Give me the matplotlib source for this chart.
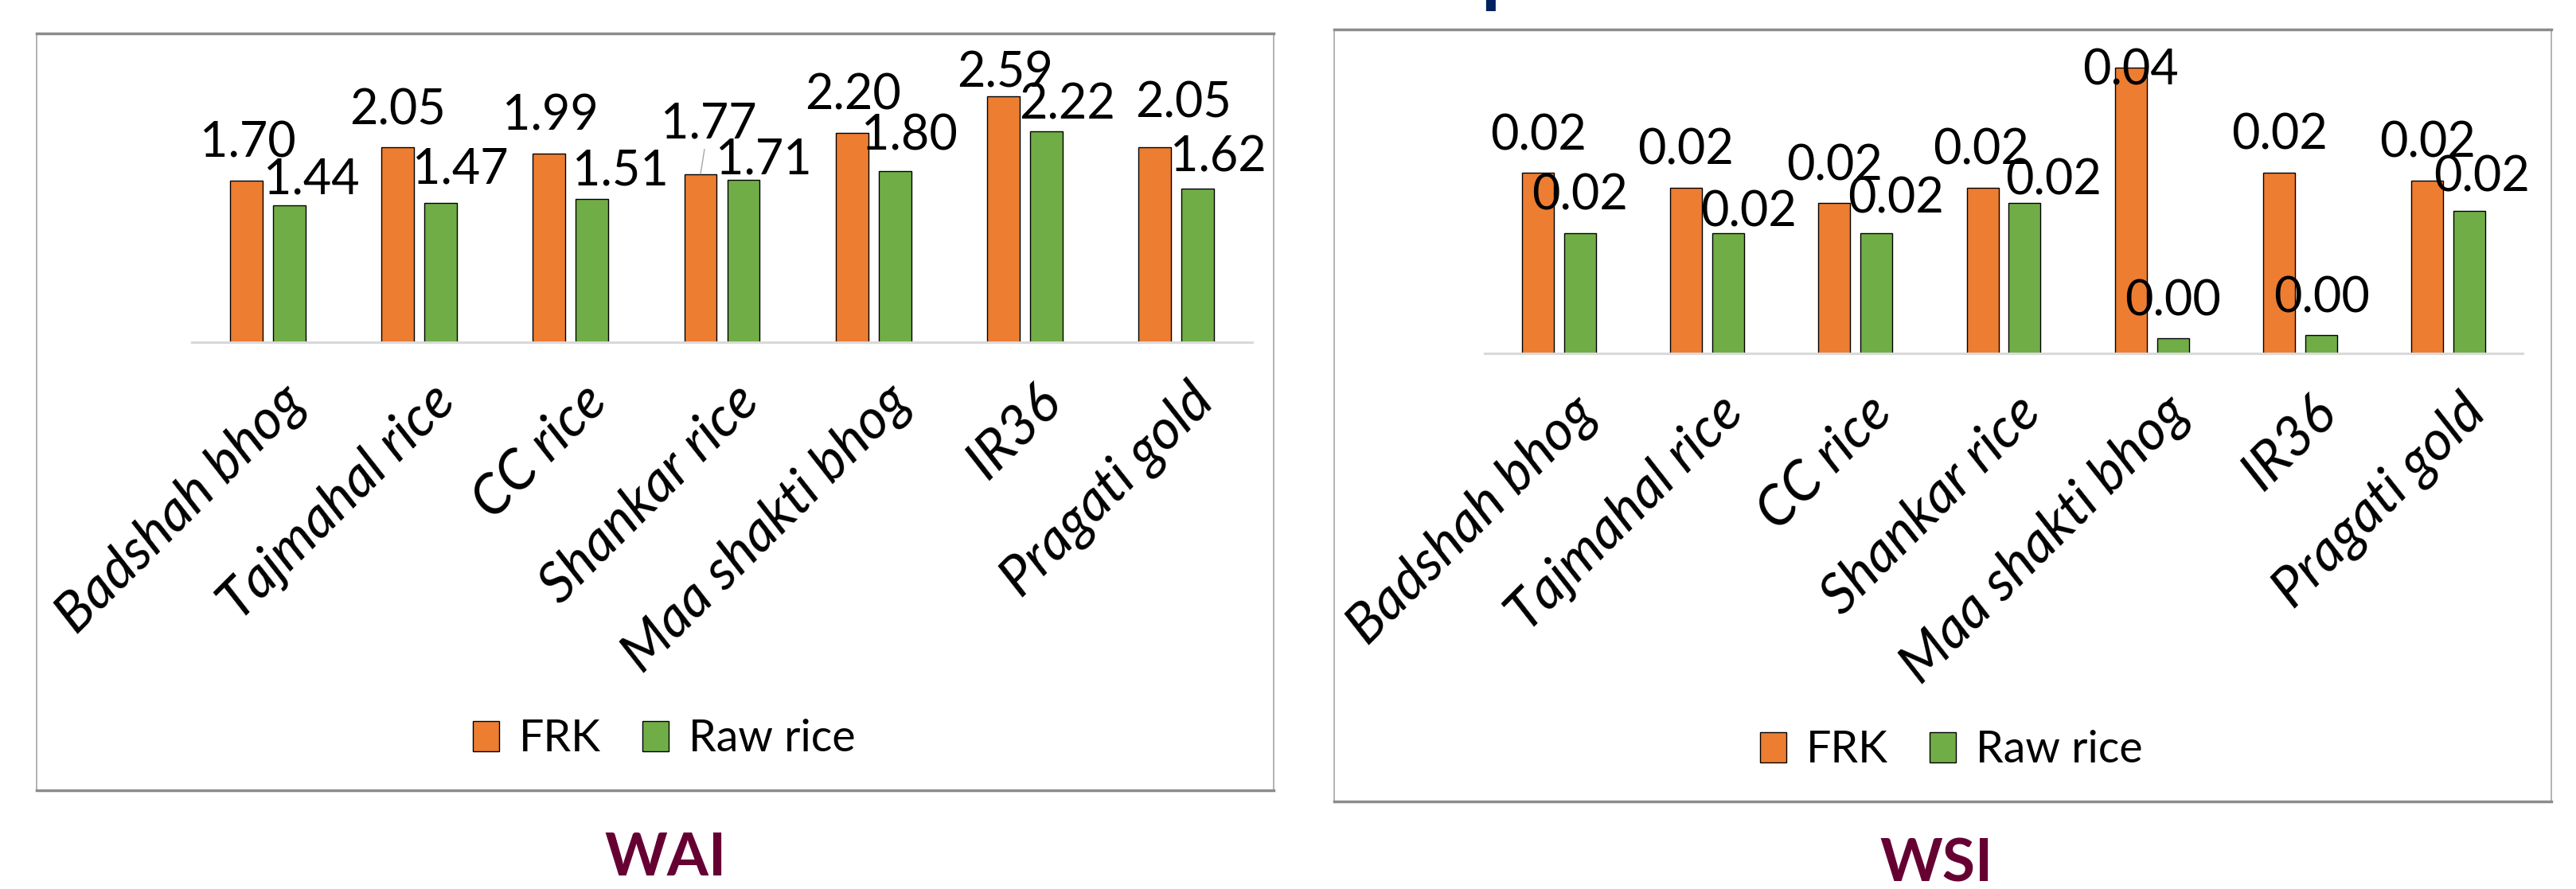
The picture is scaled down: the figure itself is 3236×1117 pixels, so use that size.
import numpy as np
import matplotlib
matplotlib.use('Agg')
import matplotlib.pyplot as plt
from matplotlib.patches import Rectangle
from matplotlib.lines import Line2D
from matplotlib.transforms import ScaledTranslation

plt.rcParams['font.family'] = ['Lato', 'DejaVu Sans']

# data
categories = ['Badshah bhog', 'Tajmahal rice', 'CC rice', 'Shankar rice',
              'Maa shakti bhog', 'IR36', 'Pragati gold']
series_names = ['FRK', 'Raw rice']
wai_frk = [1.70, 2.05, 1.99, 1.77, 2.20, 2.59, 2.05]
wai_raw = [1.44, 1.47, 1.51, 1.71, 1.80, 2.22, 1.62]
wsi_frk = [0.024, 0.022, 0.020, 0.022, 0.038, 0.024, 0.023]
wsi_raw = [0.016, 0.016, 0.016, 0.020, 0.002, 0.0024, 0.019]
panel_titles = ['WAI', 'WSI']
main_title = 'Functional Properties'

# label offsets (pixels, from bar centre / bar top to the label baseline)
wai_frk_off = [(2, 30), (0, 29), (2, 29), (10, 45), (1, 30), (2, 11), (36, 38)]
wai_raw_off = [(28, 15), (25, 24), (36, 17), (25, 7), (18, 27), (26, 16), (25, 21)]
wsi_frk_off = [(1, 29), (0, 30), (0, 29), (-2, 30), (0, -21), (0, 30), (0, 29)]
wsi_raw_off = [(0, 29), (26, 8), (24, 25), (36, 11), (0, 29), (1, 29), (15, 24)]

orange = '#ED7D31'
green = '#70AD47'
W, H = 3236, 1117

fig = plt.figure(figsize=(W / 100, H / 100), dpi=100)


def fx(px):
    return px / W


def fy(py):
    return 1 - py / H


# panel boxes
for x0, y0, x1, y1 in [(46, 42, 1600, 993), (1676, 37, 3205, 1007)]:
    fig.patches.append(Rectangle((fx(x0), fy(y1)), fx(x1 - x0), (y1 - y0) / H,
                                 transform=fig.transFigure, facecolor='white',
                                 edgecolor='#A6A6A6', lw=1.2, zorder=-2))
    for yy in (y0, y1):
        fig.lines.append(Line2D([fx(x0), fx(x1)], [fy(yy), fy(yy)],
                                transform=fig.transFigure, color='#8C8C8C', lw=2.5,
                                zorder=-1))

# cut-off title at the very top (only its lower edge is visible, as in the source)
fig.text(0.5 + fx(76), fy(-2), main_title, ha='center', va='baseline',
         fontsize=70, fontweight='bold', color='#002060')


def draw_panel(rect, ylim, frk, raw, frk_off, raw_off, fmt, legend_pos, title, title_pos):
    ax = fig.add_axes(rect)
    x = np.arange(len(categories))
    d = 0.142
    w = 0.215
    b1 = ax.bar(x - d, frk, w, color=orange, edgecolor='black', lw=1, label=series_names[0])
    b2 = ax.bar(x + d, raw, w, color=green, edgecolor='black', lw=1, label=series_names[1])
    ax.set_xlim(-0.5, len(categories) - 0.5)
    ax.set_ylim(*ylim)
    for s in ['top', 'left', 'right']:
        ax.spines[s].set_visible(False)
    ax.spines['bottom'].set_color('#D9D9D9')
    ax.spines['bottom'].set_linewidth(2.2)
    ax.set_yticks([])
    ax.set_xticks(x)
    ax.set_xticklabels(categories, rotation=45, ha='right', va='top',
                       rotation_mode='anchor', fontsize=50, style='italic')
    ax.tick_params(axis='x', length=0, pad=30)
    for lbl in ax.get_xticklabels():
        lbl.set_transform(lbl.get_transform() + ScaledTranslation(0.13, 0, fig.dpi_scale_trans))
    ax.patch.set_alpha(0)

    for bars, vals, offs in [(b1, frk, frk_off), (b2, raw, raw_off)]:
        for rect_, v, (dx, dy) in zip(bars, vals, offs):
            cx = rect_.get_x() + rect_.get_width() / 2
            kw = {}
            if dy > 40:
                kw['arrowprops'] = dict(arrowstyle='-', color='#A6A6A6', lw=1,
                                        shrinkA=0, shrinkB=0)
            ax.annotate(fmt.format(v), (cx, v), xytext=(dx, dy),
                        textcoords='offset pixels', ha='center', va='baseline',
                        fontsize=44, color='black', **kw)

    fig.legend(handles=[b1, b2], loc='center', bbox_to_anchor=legend_pos, ncol=2,
               frameon=False, fontsize=40, handlelength=0.6, handleheight=0.68,
               handletextpad=0.45, columnspacing=0.93)
    fig.text(title_pos[0], title_pos[1], title, ha='center', va='center',
             fontsize=54, fontweight='bold', color='#660033')
    return ax


draw_panel([fx(241), fy(430), fx(1332), 358 / H], (0, 3.0),
           wai_frk, wai_raw, wai_frk_off, wai_raw_off, '{:.2f}',
           (fx(834), fy(929)), panel_titles[0], (fx(836), fy(1079)))
draw_panel([fx(1865), fy(444), fx(1304), 425 / H], (0, 0.045),
           wsi_frk, wsi_raw, wsi_frk_off, wsi_raw_off, '{:.2f}',
           (fx(2451), fy(943)), panel_titles[1], (fx(2432), fy(1086)))

fig.savefig('out.png', dpi=100)
